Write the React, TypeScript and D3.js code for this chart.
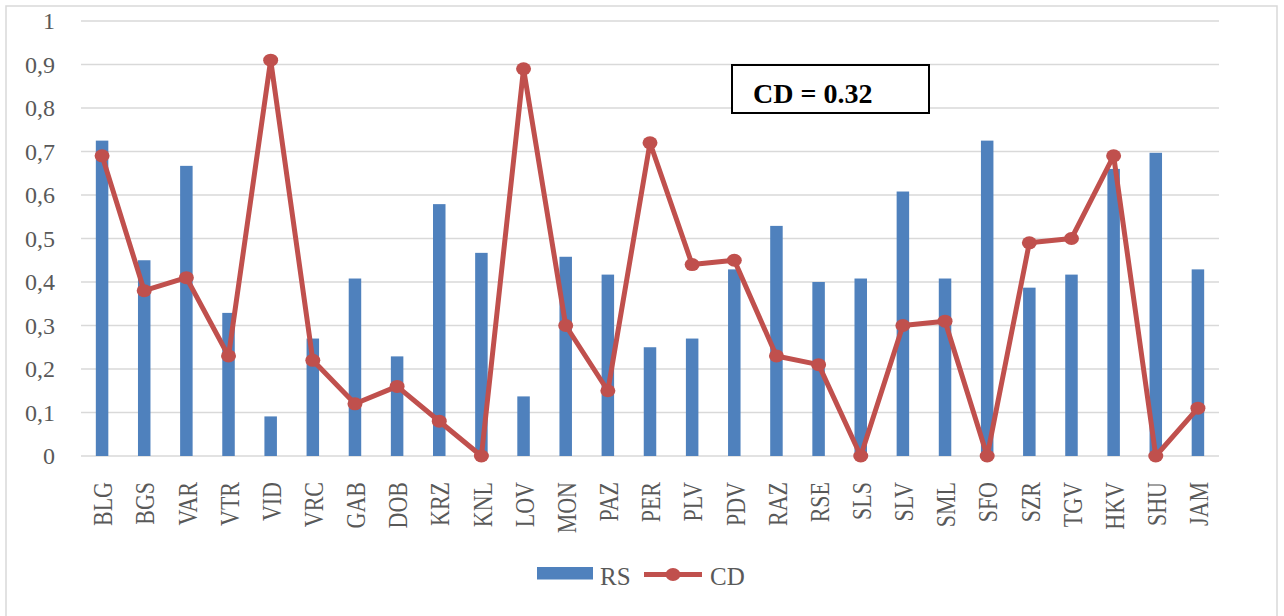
import React from "react";
import * as d3 from "d3";

const categories = ["BLG","BGS","VAR","VTR","VID","VRC","GAB","DOB","KRZ","KNL","LOV","MON","PAZ","PER","PLV","PDV","RAZ","RSE","SLS","SLV","SML","SFO","SZR","TGV","HKV","SHU","JAM"];
const rsValues = [0.725,0.45,0.667,0.329,0.091,0.27,0.408,0.229,0.579,0.467,0.137,0.458,0.417,0.25,0.27,0.429,0.529,0.40,0.408,0.608,0.408,0.725,0.387,0.417,0.66,0.697,0.429];
const cdValues = [0.69,0.38,0.41,0.23,0.91,0.22,0.12,0.16,0.08,0,0.89,0.30,0.15,0.72,0.44,0.45,0.23,0.21,0,0.30,0.31,0,0.49,0.50,0.69,0,0.11];
const yTicks = [0,0.1,0.2,0.3,0.4,0.5,0.6,0.7,0.8,0.9,1];
const yTickLabels = ["0","0,1","0,2","0,3","0,4","0,5","0,6","0,7","0,8","0,9","1"];
const annotation = "CD = 0.32";

const W = 1284, H = 616;
const serif = "'Liberation Serif', 'Times New Roman', serif";

export default function App() {
  const x = d3.scaleBand<string>().domain(categories).range([81, 1219]).paddingInner(0).paddingOuter(0);
  const y = d3.scaleLinear().domain([0, 1]).range([456, 21]);
  const cx = (c: string) => (x(c) as number) + x.bandwidth() / 2;
  const barW = 12.5;
  const line = d3.line<number>().x((_, i) => cx(categories[i])).y((d) => y(d));

  return (
    <svg width={W} height={H} style={{ position: "absolute", left: 0, top: 0, background: "#fff" }}>
      <rect x={6} y={6} width={1271} height={620} fill="#fff" stroke="#D9D9D9" strokeWidth={1.5} />
      {yTicks.map((t, i) => (
        <g key={i}>
          <line x1={81} x2={1219} y1={y(t)} y2={y(t)} stroke="#D9D9D9" strokeWidth={1.5} />
          <text x={55} y={y(t)} textAnchor="end" dominantBaseline="central" fontFamily={serif} fontSize={24} fill="#595959">
            {yTickLabels[i]}
          </text>
        </g>
      ))}
      {categories.map((c, i) => (
        <rect key={c} x={cx(c) - barW / 2} y={y(rsValues[i])} width={barW} height={y(0) - y(rsValues[i])} fill="#4F81BD" />
      ))}
      <path d={line(cdValues) || ""} fill="none" stroke="#C0504D" strokeWidth={5} strokeLinejoin="round" />
      {cdValues.map((v, i) => (
        <ellipse key={i} cx={cx(categories[i])} cy={y(v)} rx={7.5} ry={6.5} fill="#C0504D" />
      ))}
      {categories.map((c) => (
        <text key={c} transform={`translate(${cx(c) + 1},482) scale(1.2,1) rotate(-90)`} textAnchor="end" dominantBaseline="central" fontFamily={serif} fontSize={22} fill="#595959">
          {c}
        </text>
      ))}
      <rect x={732} y={65} width={197} height={48} fill="#fff" stroke="#000" strokeWidth={2} />
      <text x={753} y={103} fontFamily={serif} fontSize={28} fontWeight="bold" fill="#000">{annotation}</text>
      <rect x={537} y={567} width={56} height={12.5} fill="#4F81BD" />
      <text x={600} y={585} fontFamily={serif} fontSize={25} fill="#595959">RS</text>
      <line x1={644} x2={702} y1={574.5} y2={574.5} stroke="#C0504D" strokeWidth={5} />
      <ellipse cx={673} cy={574.5} rx={7.5} ry={6.5} fill="#C0504D" />
      <text x={710} y={585} fontFamily={serif} fontSize={25} fill="#595959">CD</text>
    </svg>
  );
}
